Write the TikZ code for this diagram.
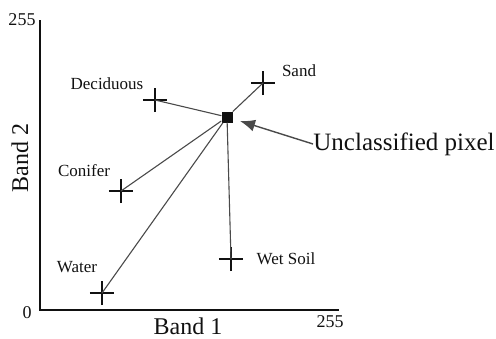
\documentclass[tikz,border=0pt]{standalone}
\usepackage{fontspec}
\setmainfont{Liberation Serif}
\usetikzlibrary{arrows.meta,shapes.misc}
\definecolor{plotink}{HTML}{111111}
\definecolor{plotline}{HTML}{4A4A4A}

\begin{document}
\begin{tikzpicture}[
  x=0.5pt, y=-0.5pt,
  font=\rmfamily,
  axis/.style={draw=plotink, line width=1.1pt},
  link/.style={draw=plotline, line width=0.55pt, line cap=round},
  plus/.style={cross out, draw=plotink, line width=0.7pt, rotate=45,
    minimum size=7.8pt, inner sep=0pt},
  pixel/.style={fill=plotink, minimum size=5.5pt, inner sep=0pt},
  cls/.style={font=\fontsize{8.5}{10}\selectfont, text=plotink, inner sep=0pt},
  tick/.style={font=\fontsize{9}{10}\selectfont, text=plotink, inner sep=0pt},
  axlabel/.style={font=\fontsize{12}{14}\selectfont, text=plotink, inner sep=0pt},
  pointer/.style={draw=plotline, line width=0.7pt, -{Latex[length=7.5pt,width=6pt]}},
]

\useasboundingbox (0,0) rectangle (496,338);

% ===== axes =====
\coordinate (orig) at (40,310);
\coordinate (ytop) at (40,20);
\coordinate (xend) at (339,310);
\draw[axis] (ytop) -- (orig) -- (xend);

\node[tick] (ymax) at (22,20) {255};
\node[tick] (zero) at (27,313) {0};
\node[tick] (xmax) at (330,322) {255};
\node[axlabel] (xlab) at (188,326) {Band 1};
\node[axlabel, rotate=90] (ylab) at (20,158) {Band 2};

% ===== class means =====
\node[plus] (decid) at (155,100) {};
\node[plus] (sand) at (263,83) {};
\node[plus] (conif) at (121,191) {};
\node[plus] (water) at (102,293) {};
\node[plus] (wetsoil) at (231,259) {};

\node[cls] at (107,84) {Deciduous};
\node[cls] at (299,71) {Sand};
\node[cls] at (84,171) {Conifer};
\node[cls] at (77,267) {Water};
\node[cls] at (286,259) {Wet Soil};

% ===== unclassified pixel and distances =====
\node[pixel] (pix) at (227,117) {};
\draw[link] (pix) -- (decid.center);
\draw[link] (pix) -- (sand.center);
\draw[link] (pix) -- (conif.center);
\draw[link] (pix) -- (water.center);
\draw[link] (pix) -- (wetsoil.center);

\node[axlabel, font=\fontsize{12.5}{14}\selectfont] (unlab) at (404,144) {Unclassified pixel};
\coordinate (tip) at (240,121);
\draw[pointer] (unlab.west) -- (tip);

\end{tikzpicture}
\end{document}
